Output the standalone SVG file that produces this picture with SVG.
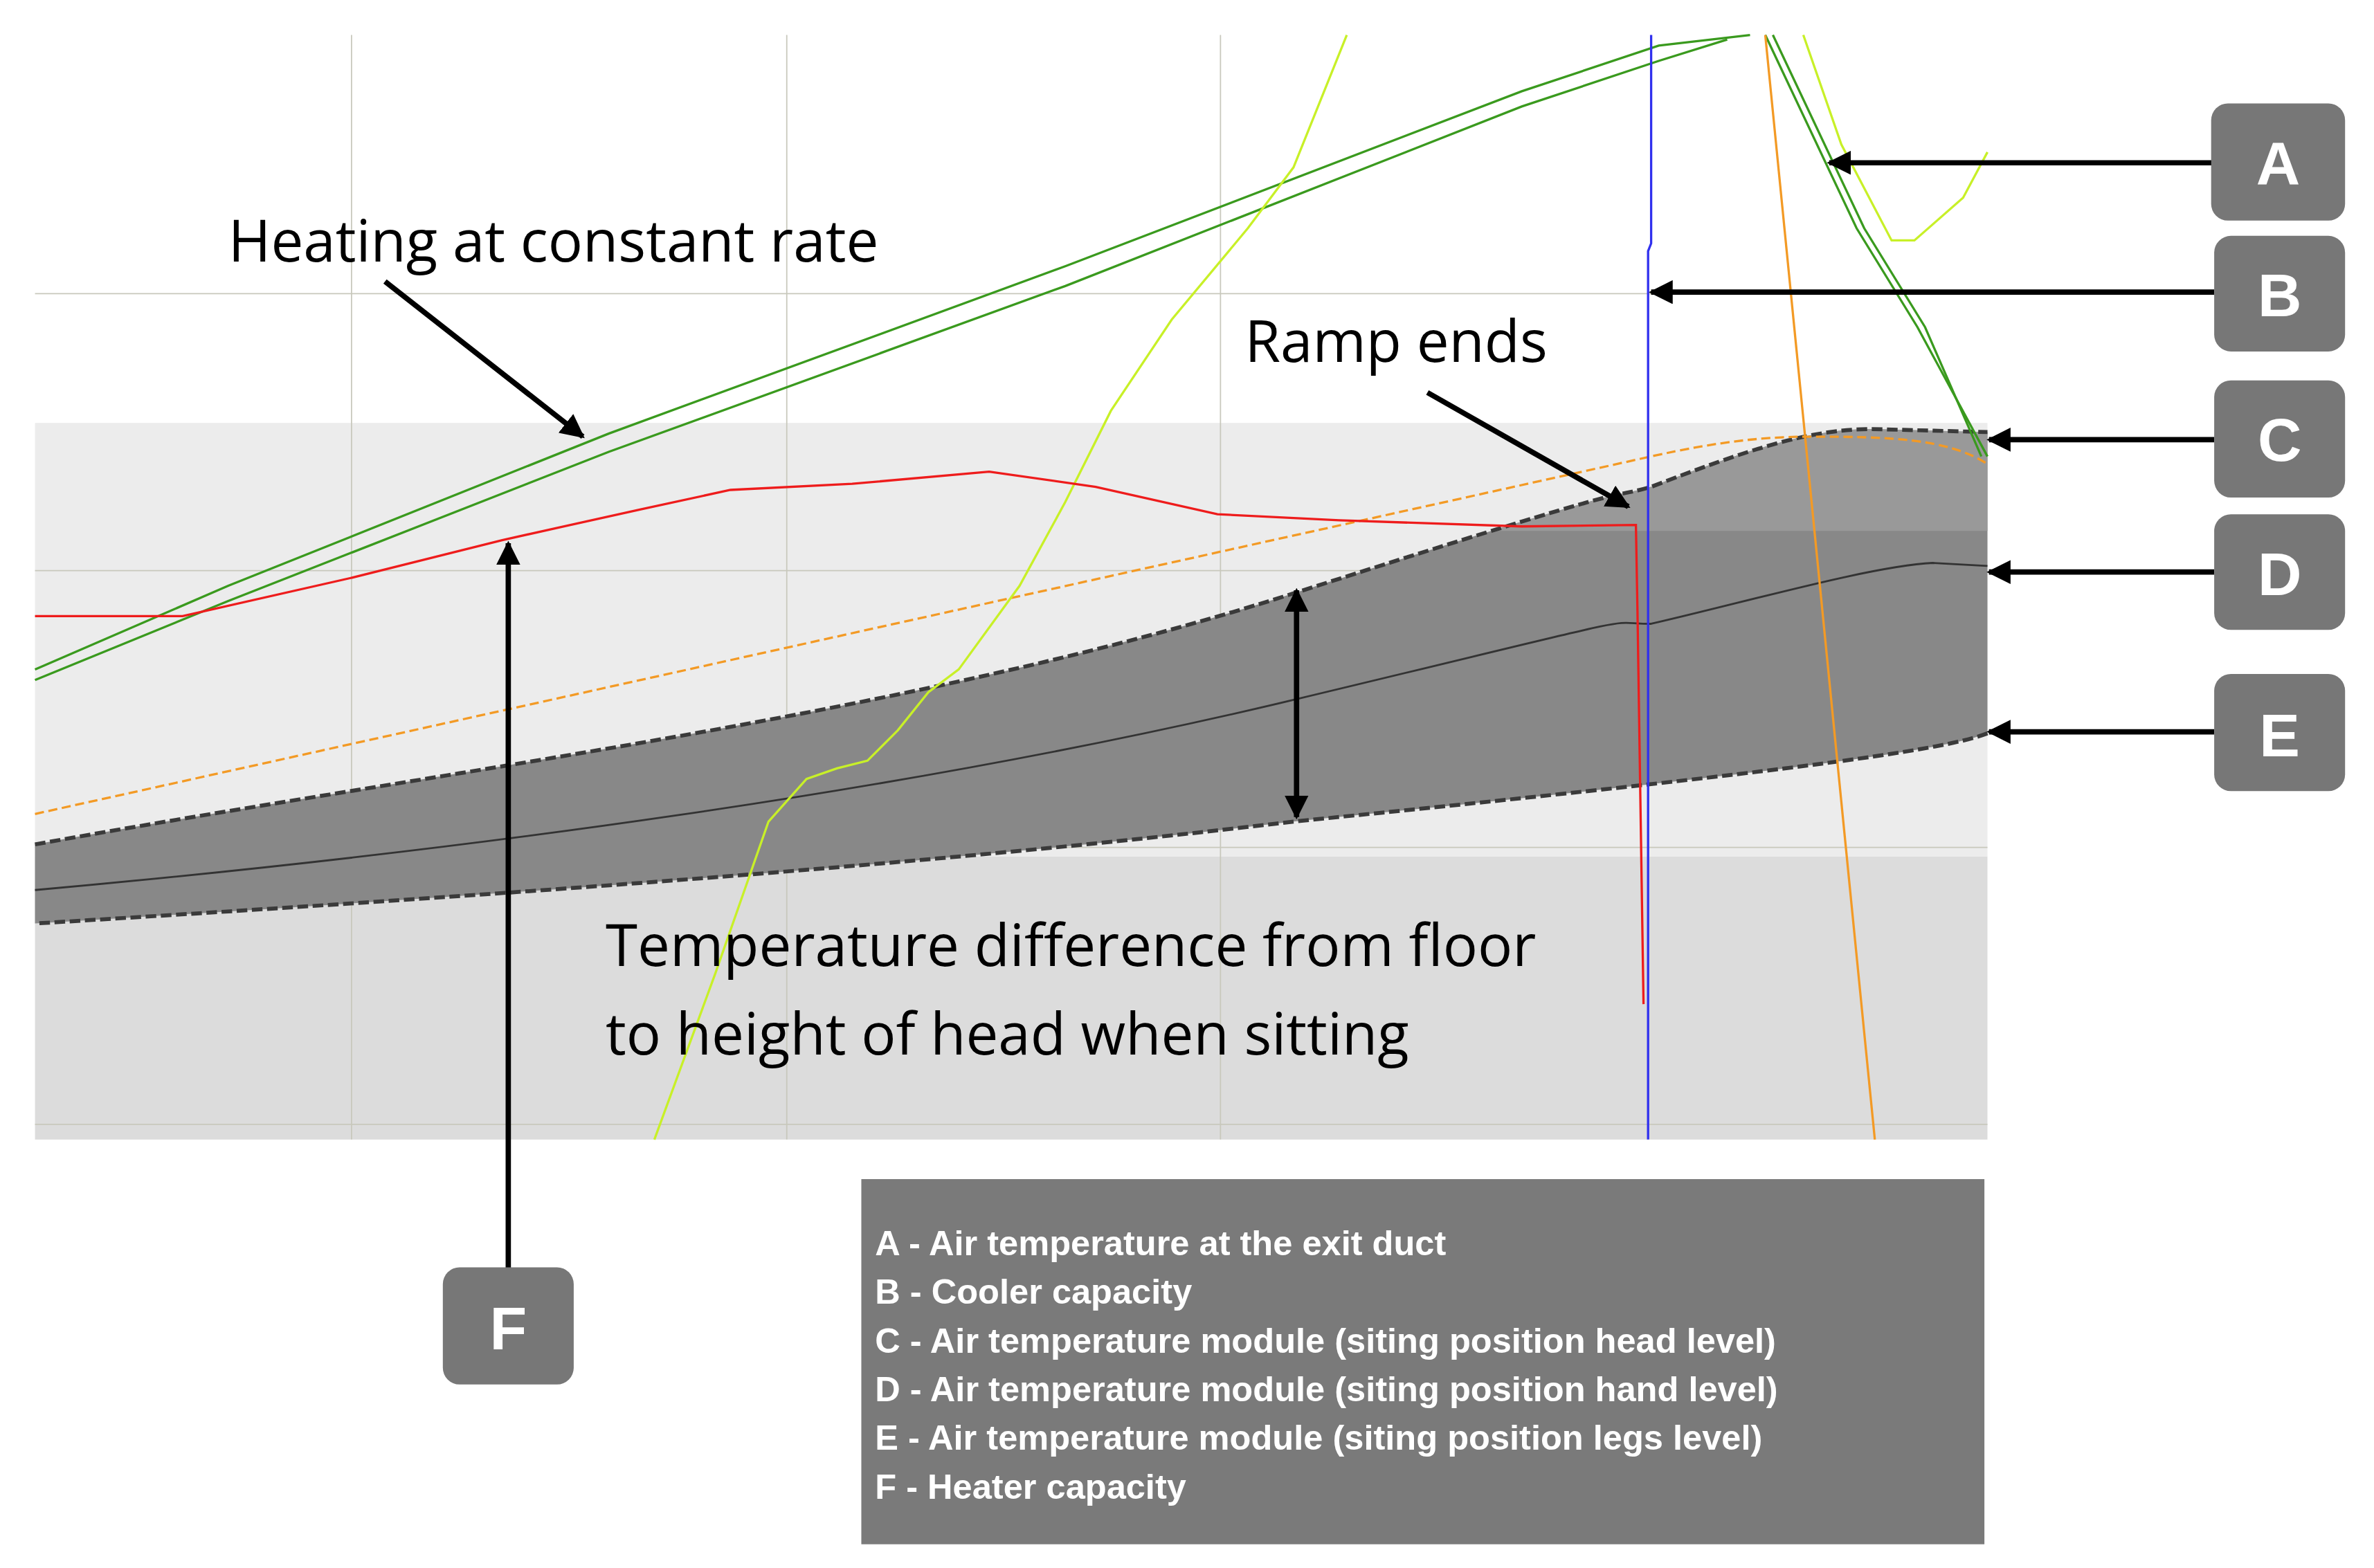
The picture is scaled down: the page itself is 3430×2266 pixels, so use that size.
<svg xmlns="http://www.w3.org/2000/svg" width="3430" height="2266" viewBox="0 0 3430 2266">
<defs>
<style>
.grid{stroke:#c8c8bc;stroke-width:0.8;fill:none}
.arr{stroke:#000;stroke-width:3.5;fill:none}
.box{fill:#777777}
.lt{font-family:"Liberation Sans",Arial,sans-serif;font-weight:bold;font-size:40px;fill:#fff;text-anchor:middle}
.lg{font-family:"Liberation Sans",Arial,sans-serif;font-weight:bold;font-size:23px;fill:#fff}
.ann{font-family:"Open Sans","Liberation Sans",sans-serif;font-size:38px;fill:#000}
.dash{stroke:#3a3a3a;stroke-width:2.6;stroke-dasharray:7 3;fill:none}
</style>
<marker id="ah" viewBox="0 0 10 10" refX="9" refY="5" markerWidth="4.5" markerHeight="4.5" orient="auto-start-reverse" markerUnits="strokeWidth"><path d="M0,0 L10,5 L0,10 z" fill="#000"/></marker>
<clipPath id="top"><rect x="0" y="0" width="1400" height="349"/></clipPath>
</defs>
<rect width="3430" height="2266" fill="#fff"/>
<g transform="scale(2.1987)">
<g id="plot">
<rect x="23" y="278" width="1283" height="285" fill="#ececec"/>
<rect x="23" y="563" width="1283" height="186" fill="#dcdcdc"/>
<path class="grid" d="M231,23V749 M517,23V749 M802,23V749 M23,193H1306 M23,375H1306 M23,557H1306 M23,739H1306"/>
<path id="band" d="M23,555 C300,505 600,470 850,390 S1050,330 1085,320 C1150,295 1190,282 1230,282 L1306,284 L1306,482 C1280,492 1200,505 850,540 C600,570 300,590 23,607 Z" fill="#888888"/>
<path d="M23,555 C300,505 600,470 850,390 S1050,330 1085,320 C1150,295 1190,282 1230,282 L1306,284 L1306,482 C1280,492 1200,505 850,540 C600,570 300,590 23,607 Z" fill="#999999" clip-path="url(#top)"/>
<path class="dash" d="M23,555 C300,505 600,470 850,390 S1050,330 1085,320 C1150,295 1190,282 1230,282 L1306,284"/>
<path class="dash" d="M1306,482 C1280,492 1200,505 850,540 C600,570 300,590 23,607"/>
<path d="M23,585 C300,560 600,520 850,460 S1050,410 1085,410 C1150,395 1230,372 1270,370 L1306,372" stroke="#333" stroke-width="1.3" fill="none"/>
<path d="M23,535 L1085,300 C1130,290 1160,287 1190,287 C1240,287 1280,288 1306,305" stroke="#f39a25" stroke-width="1.5" stroke-dasharray="6 3" fill="none"/>
<path d="M23,440 L150,385 L400,285 L700,175 L1000,60 L1090,30 L1150,23" stroke="#3a9a1e" stroke-width="1.5" fill="none"/>
<path d="M23,447 L150,395 L400,297 L700,188 L1000,70 L1090,40 L1135,26" stroke="#3a9a1e" stroke-width="1.5" fill="none"/>
<path d="M1160,23 L1220,150 L1260,215 L1306,300" stroke="#3a9a1e" stroke-width="1.5" fill="none"/>
<path d="M1165,23 L1225,150 L1265,215 L1302,300" stroke="#3a9a1e" stroke-width="1.5" fill="none"/>
<path d="M430,749 L470,640 L505,540 L530,512 L550,505 L570,500 L590,480 L610,455 L630,440 L670,385 L700,330 L730,270 L770,210 L820,150 L850,110 L885,23" stroke="#c8f028" stroke-width="1.5" fill="none"/>
<path d="M1185,23 L1210,95 L1243,158 L1258,158 L1290,130 L1306,100" stroke="#c8f028" stroke-width="1.5" fill="none"/>
<path d="M1160,23 L1232,749" stroke="#f39a25" stroke-width="1.5" fill="none"/>
<path d="M23,405 L120,405 L230,380 L330,355 L420,335 L480,322 L560,318 L650,310 L720,320 L800,338 L880,342 L1000,346 L1075,345 L1076,400 L1080,660" stroke="#ee1c1c" stroke-width="1.5" fill="none"/>
<path d="M1085,23 L1085,160 L1083,165 L1083,749" stroke="#3030ee" stroke-width="1.5" fill="none"/>
</g>
<g id="annotations">
<text class="ann" x="150" y="172">Heating at constant rate</text>
<text class="ann" x="818" y="238">Ramp ends</text>
<text class="ann" x="398" y="635">Temperature difference from floor</text>
<text class="ann" x="398" y="693">to height of head when sitting</text>
</g>
<g id="connectors">
<path class="arr" d="M253,185 L383,287" marker-end="url(#ah)"/>
<path class="arr" d="M938,258 L1070,333" marker-end="url(#ah)"/>
<path class="arr" d="M852,388 L852,537" marker-start="url(#ah)" marker-end="url(#ah)"/>
<path class="arr" d="M334,835 L334,357" marker-end="url(#ah)"/>
<path class="arr" d="M1455,107 L1202,107" marker-end="url(#ah)"/>
<path class="arr" d="M1455,192 L1085,192" marker-end="url(#ah)"/>
<path class="arr" d="M1455,289 L1307,289" marker-end="url(#ah)"/>
<path class="arr" d="M1455,376 L1307,376" marker-end="url(#ah)"/>
<path class="arr" d="M1455,481 L1307,481" marker-end="url(#ah)"/>
</g>
<g id="A"><rect class="box" x="1453" y="68" width="88" height="77" rx="11"/><text class="lt" x="1497" y="121">A</text></g>
<g id="B"><rect class="box" x="1455" y="155" width="86" height="76" rx="11"/><text class="lt" x="1498" y="208">B</text></g>
<g id="C"><rect class="box" x="1455" y="250" width="86" height="77" rx="11"/><text class="lt" x="1498" y="303">C</text></g>
<g id="D"><rect class="box" x="1455" y="338" width="86" height="76" rx="11"/><text class="lt" x="1498" y="391">D</text></g>
<g id="E"><rect class="box" x="1455" y="443" width="86" height="77" rx="11"/><text class="lt" x="1498" y="497">E</text></g>
<g id="F"><rect class="box" x="291" y="833" width="86" height="77" rx="11"/><text class="lt" x="334" y="887">F</text></g>
<g id="legend">
<rect x="566" y="775" width="738" height="240" fill="#7a7a7a"/>
<text class="lg" x="575" y="825">A - Air temperature at the exit duct</text>
<text class="lg" x="575" y="857">B - Cooler capacity</text>
<text class="lg" x="575" y="889">C - Air temperature module (siting position head level)</text>
<text class="lg" x="575" y="921">D - Air temperature module (siting position hand level)</text>
<text class="lg" x="575" y="953">E - Air temperature module (siting position legs level)</text>
<text class="lg" x="575" y="985">F - Heater capacity</text>
</g>
</g>
</svg>
